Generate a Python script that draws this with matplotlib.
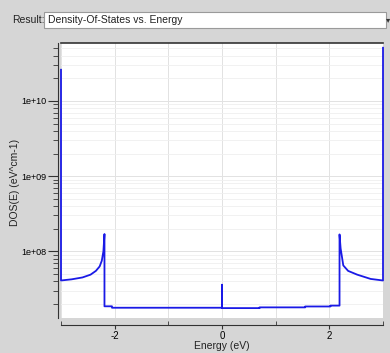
import matplotlib
matplotlib.use("Agg")
import matplotlib.pyplot as plt
from matplotlib.patches import Rectangle
from matplotlib.ticker import FixedLocator, FuncFormatter, LogLocator, NullFormatter

plt.rcParams["font.family"] = ["Liberation Sans", "DejaVu Sans"]
plt.rcParams["font.size"] = 7.5
plt.rcParams["axes.unicode_minus"] = False

# DOS curve (eV, states per eV per cm)
energy = [-3.0, -3.0, -2.8, -2.6, -2.45, -2.35, -2.28, -2.24, -2.21, -2.19,
          -2.19, -2.05, -2.05, 0.0, 0.0, 0.0, 0.7, 0.7, 1.55, 1.55, 2.02, 2.02,
          2.19, 2.19, 2.21, 2.26, 2.35, 2.52, 2.77, 3.0, 3.0]
dos = [2.6e10, 4.1e7, 4.25e7, 4.5e7, 4.9e7, 5.5e7, 6.3e7, 7.5e7, 1.0e8, 1.7e8,
       1.86e7, 1.86e7, 1.78e7, 1.78e7, 3.6e7, 1.76e7, 1.76e7, 1.8e7, 1.8e7, 1.85e7, 1.85e7, 1.9e7,
       1.9e7, 1.68e8, 1.1e8, 6.5e7, 5.5e7, 4.9e7, 4.3e7, 4.1e7, 5.1e10]

xmajor = [-2, 0, 2]
xminor = [-3, -1, 1, 3]

bg = "#d6d6d6"
fig = plt.figure(figsize=(3.9, 3.53), dpi=100, facecolor=bg)

# "Result:" selector bar
fig.text(12 / 390, 1 - 20 / 353, "Result:", ha="left", va="center", fontsize=7.5, color="#222222")
fig.patches.append(Rectangle((44 / 390, 1 - 28 / 353), 342 / 390, 16 / 353,
                             transform=fig.transFigure, facecolor="white",
                             edgecolor="#9a9a9a", linewidth=0.8))
fig.text(48 / 390, 1 - 20 / 353, "Density-Of-States vs. Energy", ha="left", va="center",
         fontsize=7.5, color="#222222")
fig.text(388 / 390, 1 - 20 / 353, "\u25be", ha="center", va="center", fontsize=6, color="#333333",
         family=["DejaVu Sans"])

ax = fig.add_axes([61 / 390, 1 - 318 / 353, 322 / 390, 275 / 353])
ax.set_facecolor("white")
ax.plot(energy, dos, color="#1a1ae6", linewidth=1.3, clip_on=False, zorder=3)
ax.set_yscale("log")
ax.set_xlim(-3, 3)
ax.set_ylim(1.3e7, 5.9e10)

ax.xaxis.set_major_locator(FixedLocator(xmajor))
ax.xaxis.set_minor_locator(FixedLocator(xminor))
ax.yaxis.set_major_locator(LogLocator(base=10))
ax.yaxis.set_minor_locator(LogLocator(base=10, subs=range(2, 10)))
ax.yaxis.set_major_formatter(FuncFormatter(lambda v, _: f"{v:.0e}"))
ax.yaxis.set_minor_formatter(NullFormatter())

ax.grid(True, which="major", color="#e2e2e2", linewidth=0.7)
ax.grid(True, which="minor", color="#efefef", linewidth=0.6)
ax.xaxis.grid(True, which="minor", color="#e2e2e2", linewidth=0.7)

ax.spines["top"].set_color("#333333")
ax.spines["top"].set_linewidth(1.2)
ax.spines["right"].set_visible(False)
ax.spines["left"].set_position(("outward", 2.2))
ax.spines["bottom"].set_position(("outward", 5))
ax.spines["left"].set_color("#333333")
ax.spines["bottom"].set_color("#333333")

ax.tick_params(axis="x", which="major", direction="out", length=3, color="#333333",
               labelsize=7, pad=1.5)
ax.tick_params(axis="x", which="minor", direction="in", length=3, color="#333333")
ax.tick_params(axis="y", which="major", direction="out", length=7, color="#333333",
               labelsize=6.5, pad=1.5)
ax.tick_params(axis="y", which="minor", direction="out", length=3.6, color="#333333")

fig.text(222 / 390, 1 - 346 / 353, "Energy (eV)", ha="center", va="center",
         fontsize=7.5, color="#222222")
fig.text(15 / 390, 1 - 182 / 353, "DOS(E) (eV^cm-1)", ha="center", va="center",
         rotation=90, fontsize=7.5, color="#222222")

fig.savefig("out.png", dpi=100, facecolor=bg)
